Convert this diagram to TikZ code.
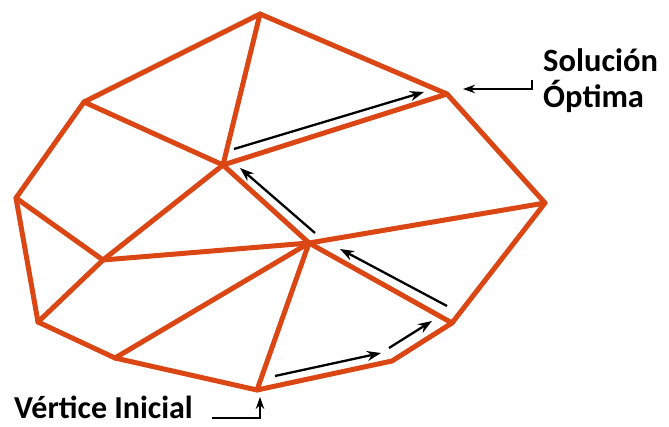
\documentclass[tikz,border=0pt]{standalone}
\usepackage{fontspec}
\setmainfont{Carlito}
\usetikzlibrary{arrows.meta}
\definecolor{edgeorange}{RGB}{218,70,20}
\tikzset{
  edge/.style={draw=edgeorange,line width=5pt,line join=round,line cap=round},
  move/.style={draw=black,line width=2.3pt,-{Stealth[length=14pt,width=10pt]}},
  pointer/.style={draw=black,line width=1.9pt,-{Stealth[length=12pt,width=8.5pt]}},
  lbl/.style={font=\bfseries\fontsize{32}{34}\selectfont,inner sep=0pt,anchor=base west},
  biglbl/.style={lbl,font=\bfseries\fontsize{32.5}{34}\selectfont}
}
\begin{document}
\begin{tikzpicture}[x=1pt,y=-1pt]
\useasboundingbox (0,0) rectangle (669,427);
% outer vertices
\coordinate (t) at (260,14);
\coordinate (o) at (447,94);
\coordinate (r) at (545,203);
\coordinate (br) at (452,323);
\coordinate (b2) at (392,361);
\coordinate (s) at (257,390);
\coordinate (bl) at (115,358);
\coordinate (l2) at (38,322);
\coordinate (l) at (16,198);
\coordinate (tl) at (84,102);
% inner vertices
\coordinate (c1) at (223,165);
\coordinate (c2) at (309,243);
\coordinate (c3) at (103,260);
% edges
\draw[edge] (t) -- (o) -- (r) -- (br) -- (b2) -- (s) -- (bl) -- (l2) -- (l) -- (tl) -- cycle;
\draw[edge] (t) -- (c1);
\draw[edge] (tl) -- (c1);
\draw[edge] (c1) -- (o);
\draw[edge] (c1) -- (c3);
\draw[edge] (c1) -- (c2);
\draw[edge] (c2) -- (r);
\draw[edge] (c2) -- (br);
\draw[edge] (c2) -- (s);
\draw[edge] (c2) -- (bl);
\draw[edge] (c2) -- (c3);
\draw[edge] (c3) -- (l);
\draw[edge] (c3) -- (l2);
% path arrows
\coordinate (a1s) at (275,376);
\coordinate (a1e) at (381,353);
\coordinate (a2s) at (389,348);
\coordinate (a2e) at (432,321);
\coordinate (a3s) at (447,306);
\coordinate (a3e) at (340,249);
\coordinate (a4s) at (315,233);
\coordinate (a4e) at (240,168);
\coordinate (a5s) at (234,149);
\coordinate (a5e) at (424,92);
\draw[move] (a1s) -- (a1e);
\draw[move] (a2s) -- (a2e);
\draw[move] (a3s) -- (a3e);
\draw[move] (a4s) -- (a4e);
\draw[move] (a5s) -- (a5e);
% labels
\node[biglbl] (sol) at (543,72) {Solución};
\node[biglbl] (opt) at (543,108) {Óptima};
\node[lbl,text depth=0pt] (vi) at (14,418) {Vértice Inicial};
\coordinate (p1) at (532,80);
\coordinate (p2) at (532,89);
\coordinate (p3) at (463,89);
\draw[pointer] (p1) -- (p2) -- (p3);
\coordinate (q1) at (212,418);
\coordinate (q2) at (260,418);
\coordinate (q3) at (260,397);
\draw[pointer] (q1) -- (q2) -- (q3);
\end{tikzpicture}
\end{document}
